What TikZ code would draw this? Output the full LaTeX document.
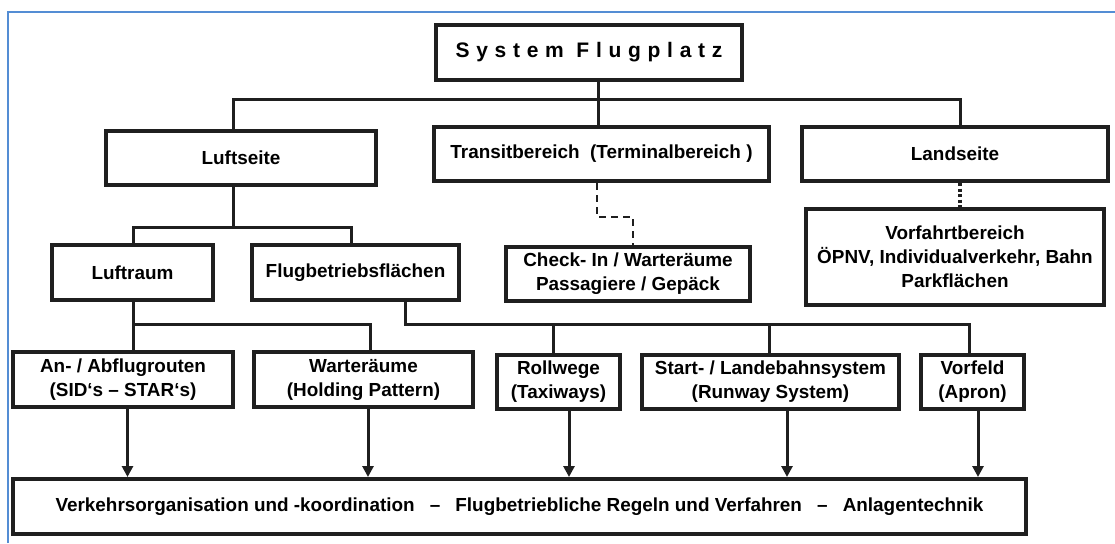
\documentclass[tikz,border=0pt]{standalone}
\usepackage{fontspec}
\setmainfont{Liberation Sans}
\usetikzlibrary{arrows.meta, positioning}

\definecolor{frameblue}{RGB}{84,141,212}

\begin{document}
\begin{tikzpicture}[x=1pt, y=-1pt,
		box/.style={rectangle, draw=black!88, line width=4pt, inner sep=0pt, align=center,
			font=\bfseries\fontsize{18.9}{24}\selectfont},
		conn/.style={line width=3pt, black!88},
		arr/.style={line width=3pt, black!88, -{Triangle[length=11pt,width=11pt]}}
		]
		\useasboundingbox (0,0) rectangle (1115,543);
		\draw[frameblue, line width=2pt] (8,543) -- (8,12) -- (1115,12);

		\node[box, minimum width=306pt, minimum height=55pt](SF) at (589,52.5)
			{\addfontfeature{LetterSpace=32}\fontsize{21}{25}\selectfont System Flugplatz};
		\node[box, minimum width=270pt, minimum height=54pt](LS) at (241,158){Luftseite};
		\node[box, minimum width=335pt, minimum height=54pt](TB) at (601.5,154){Transitbereich\ \ (Terminalbereich\ )};
		\node[box, minimum width=306pt, minimum height=54pt](LD) at (955,154){Landseite};
		\node[box, minimum width=161pt, minimum height=55pt](LR) at (132.5,272.5){Luftraum};
		\node[box, minimum width=207pt, minimum height=55pt](FB) at (355.5,272.5){Flugbetriebsflächen};
		\node[box, minimum width=244pt, minimum height=54pt](CI) at (628,274){Check- In / Warteräume\\Passagiere / Gepäck};
		\node[box, minimum width=298pt, minimum height=96pt](VB) at (955,257){Vorfahrtbereich\\ÖPNV, Individualverkehr, Bahn\\Parkflächen};
		\node[box, minimum width=220pt, minimum height=55pt](AA) at (123,379.5){An- / Abflugrouten\\(SID‘s – STAR‘s)};
		\node[box, minimum width=219pt, minimum height=55pt](WR) at (363.5,379.5){Warteräume\\(Holding Pattern)};
		\node[box, minimum width=123pt, minimum height=54pt](RW) at (558.5,382){Rollwege\\(Taxiways)};
		\node[box, minimum width=257pt, minimum height=54pt](SL) at (770.5,382){Start- / Landebahnsystem\\(Runway System)};
		\node[box, minimum width=103pt, minimum height=54pt](VF) at (972.5,382){Vorfeld\\(Apron)};
		\node[box, minimum width=1013pt, minimum height=55pt](BT) at (519.5,506.5)
			{Verkehrsorganisation und -koordination\hspace{0.8em}–\hspace{0.8em}Flugbetriebliche Regeln und Verfahren\hspace{0.8em}–\hspace{0.8em}Anlagentechnik};

		\coordinate (b0) at (598.5,99);
		\coordinate (b1) at (233,227);
		\coordinate (b2) at (133,324);
		\coordinate (b3) at (405,324);
		\coordinate (r1) at (553,324);
		\coordinate (r2) at (769,324);
		\coordinate (d0) at (597,183);
		\coordinate (d1) at (633,217);
		\coordinate (v0) at (960,183);

		\draw[conn] (b0 |- SF.south) -- (b0 |- TB.north);
		\draw[conn] ([xshift=-8pt]LS.north) |- (b0) -| ([xshift=5pt]LD.north);
		\draw[conn] ([xshift=-8pt]LS.south) -- (b1);
		\draw[conn] (b2 |- LR.north) |- (b1) -| ([xshift=-4.5pt]FB.north);
		\draw[conn] (b2 |- LR.south) -- (b2 |- AA.north);
		\draw[conn] (b2) -| ([xshift=6.5pt]WR.north);
		\draw[conn] (b3 |- FB.south) -- (b3) -| ([xshift=-3.5pt]VF.north);
		\draw[conn] (r1) -- (r1 |- RW.north);
		\draw[conn] (r2) -- (r2 |- SL.north);
		\draw[line width=2pt, black!88, dash pattern=on 7pt off 5pt] (d0 |- TB.south) |- (d1) -- (d1 |- CI.north);
		\draw[line width=3.5pt, black!88, dash pattern=on 3pt off 2.5pt] (v0 |- LD.south) -- (v0 |- VB.north);

		\draw[arr] ([xshift=4.5pt]AA.south) -- ([xshift=4.5pt]AA.south |- BT.north);
		\draw[arr] ([xshift=4.5pt]WR.south) -- ([xshift=4.5pt]WR.south |- BT.north);
		\draw[arr] ([xshift=10.5pt]RW.south) -- ([xshift=10.5pt]RW.south |- BT.north);
		\draw[arr] ([xshift=16.5pt]SL.south) -- ([xshift=16.5pt]SL.south |- BT.north);
		\draw[arr] ([xshift=5.5pt]VF.south) -- ([xshift=5.5pt]VF.south |- BT.north);
	\end{tikzpicture}
\end{document}
